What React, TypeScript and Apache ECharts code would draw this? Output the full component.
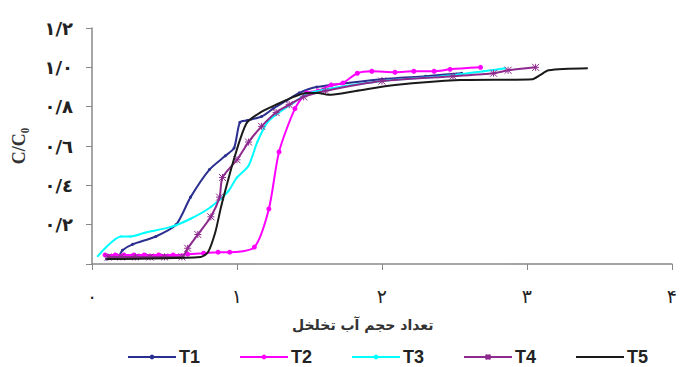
import React, { useEffect, useRef } from "react";
import * as echarts from "echarts";

const seriesNames = ["T1", "T2", "T3", "T4", "T5"];
const seriesColors = ["#2B2F8F", "#FF00FF", "#00FFFF", "#8E2A8E", "#1A1A1A"];

const xTickLabels = ["۰", "۱", "۲", "۳", "۴"];
const yTickLabels = ["", "۰/۲", "۰/٤", "۰/٦", "۰/۸", "۱/۰", "۱/۲"];

const t1X = [0.10, 0.18, 0.21, 0.28, 0.44, 0.58, 0.68, 0.81, 0.92, 0.98, 1.02, 1.07, 1.17, 1.25, 1.34, 1.43, 1.55, 2.0, 2.3, 2.55];
const t1Y = [0.025, 0.036, 0.07, 0.10, 0.14, 0.20, 0.34, 0.48, 0.55, 0.59, 0.72, 0.73, 0.75, 0.79, 0.83, 0.87, 0.90, 0.94, 0.955, 0.97];

const t2X = [0.09, 0.16, 0.22, 0.29, 0.36, 0.46, 0.56, 0.66, 0.77, 0.87, 0.95, 1.12, 1.22, 1.29, 1.40, 1.48, 1.56, 1.65, 1.73, 1.83, 1.93, 2.09, 2.22, 2.36, 2.47, 2.68];
const t2Y = [0.046, 0.046, 0.046, 0.046, 0.046, 0.046, 0.046, 0.05, 0.055, 0.06, 0.06, 0.086, 0.28, 0.57, 0.79, 0.87, 0.88, 0.91, 0.92, 0.97, 0.98, 0.975, 0.98, 0.98, 0.99, 1.0];

const t3X = [0.04, 0.20, 0.26, 0.37, 0.55, 0.68, 0.82, 0.94, 1.0, 1.08, 1.14, 1.21, 1.29, 1.39, 1.50, 2.0, 2.43, 2.70, 2.85];
const t3Y = [0.04, 0.14, 0.14, 0.16, 0.19, 0.23, 0.29, 0.37, 0.44, 0.50, 0.62, 0.72, 0.77, 0.82, 0.87, 0.93, 0.955, 0.98, 0.995];

const t4X = [0.11, 0.2, 0.3, 0.4, 0.5, 0.62, 0.66, 0.73, 0.82, 0.88, 0.90, 1.0, 1.08, 1.17, 1.27, 1.36, 1.46, 1.61, 2.0, 2.49, 2.77, 2.87, 3.06];
const t4Y = [0.036, 0.036, 0.036, 0.036, 0.036, 0.036, 0.08, 0.15, 0.24, 0.34, 0.44, 0.53, 0.62, 0.70, 0.77, 0.81, 0.85, 0.88, 0.93, 0.955, 0.97, 0.985, 1.0];

const t5X = [0.10, 0.75, 0.80, 0.85, 0.89, 0.94, 0.97, 1.02, 1.07, 1.16, 1.27, 1.39, 1.48, 1.56, 1.63, 1.82, 2.09, 2.54, 3.04, 3.09, 3.15, 3.42];
const t5Y = [0.025, 0.036, 0.06, 0.16, 0.29, 0.43, 0.51, 0.63, 0.72, 0.77, 0.81, 0.85, 0.87, 0.87, 0.86, 0.88, 0.91, 0.935, 0.94, 0.96, 0.985, 0.995];

const allX = [t1X, t2X, t3X, t4X, t5X];
const allY = [t1Y, t2Y, t3Y, t4Y, t5Y];

const starPath = "path://M0,0L10,10M10,0L0,10M5,0L5,10M0,5L10,5";

const symbols = ["circle", "circle", "circle", starPath, "none"];
const symbolSizes = [3, 5, 2, 7, 0];

export default function App() {
  const ref = useRef<HTMLDivElement>(null);
  useEffect(() => {
    document.body.style.margin = "0";
    if (!ref.current) return;
    const chart = echarts.init(ref.current, null, { renderer: "svg" });
    const series = seriesNames.map((name, i) => ({
      name,
      type: "line",
      data: allX[i].map((x, j) => [x, allY[i][j]]),
      smooth: 0.25,
      symbol: symbols[i],
      symbolSize: symbolSizes[i],
      showSymbol: symbols[i] !== "none",
      lineStyle: { color: seriesColors[i], width: 2 },
      itemStyle: {
        color: seriesColors[i],
        borderColor: seriesColors[i],
        borderWidth: i === 3 ? 1 : 0,
      },
      z: 2 + i,
    }));
    chart.setOption({
      animation: false,
      grid: { left: 92, top: 28, width: 590, height: 236, containLabel: false },
      xAxis: {
        type: "value",
        min: 0,
        max: 4,
        interval: 1,
        axisLine: { show: true, lineStyle: { color: "#888", width: 1.5 } },
        axisTick: { show: true, length: 6, lineStyle: { color: "#888" } },
        splitLine: { show: false },
        axisLabel: {
          margin: 22,
          fontSize: 19,
          color: "#222",
          fontFamily: "DejaVu Sans",
          formatter: (v: number) => xTickLabels[Math.round(v)] ?? "",
        },
      },
      yAxis: {
        type: "value",
        min: 0,
        max: 1.2,
        interval: 0.2,
        name: "C/C₀",
        nameLocation: "middle",
        nameGap: 64,
        nameRotate: 90,
        nameTextStyle: {
          fontFamily: "Liberation Serif",
          fontWeight: "bold",
          fontSize: 18,
          color: "#333",
        },
        axisLine: { show: true, lineStyle: { color: "#888", width: 1.5 } },
        axisTick: { show: true, length: 6, lineStyle: { color: "#888" } },
        splitLine: { show: false },
        axisLabel: {
          margin: 19,
          fontSize: 18,
          fontWeight: "bold",
          color: "#222",
          fontFamily: "DejaVu Sans",
          formatter: (v: number) => yTickLabels[Math.round(v * 5)] ?? "",
        },
      },
      legend: {
        data: seriesNames.map((n, i) =>
          i === 4 ? { name: n, itemStyle: { opacity: 0 } } : { name: n }
        ),
        left: 127,
        top: 348,
        padding: 0,
        itemWidth: 48,
        itemHeight: 6,
        itemGap: 39,
        textStyle: {
          fontSize: 18,
          lineHeight: 18,
          fontWeight: "bold",
          color: "#222",
          fontFamily: "Liberation Sans",
          padding: [0, 0, 0, -2],
        },
      },
      graphic: [
        {
          type: "text",
          left: 292,
          top: 318,
          style: {
            text: "تعداد حجم آب تخلخل",
            fontSize: 14,
            fontWeight: "bold",
            fill: "#333",
            fontFamily: "DejaVu Sans",
          },
        },
      ],
      series,
    });
    return () => chart.dispose();
  }, []);
  return <div ref={ref} style={{ width: 680, height: 367 }} />;
}
